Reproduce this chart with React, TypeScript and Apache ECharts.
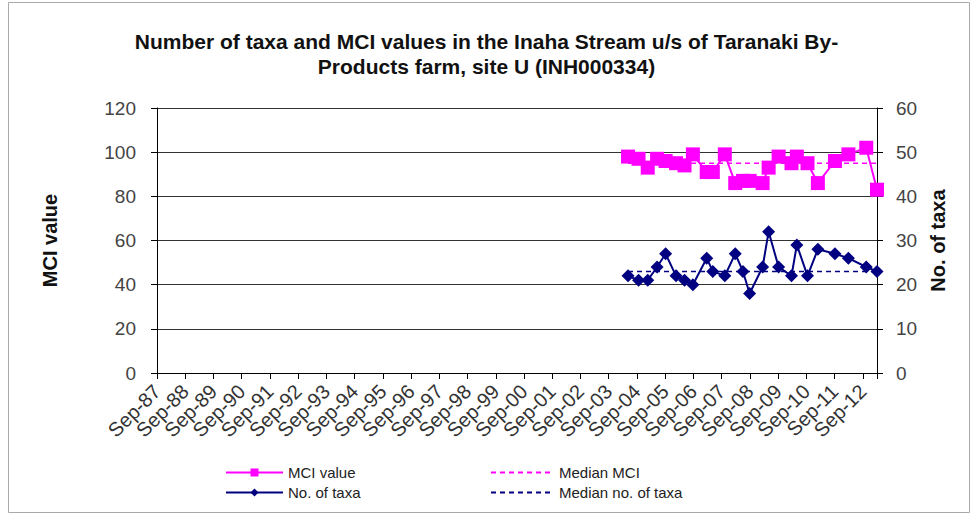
import React, { useEffect, useRef } from "react";
import * as echarts from "echarts";

// Survey dates (estimated from the chart)
const sampleDates = [
  "2004-05-08", "2004-09-21", "2005-01-18", "2005-05-19", "2005-09-06",
  "2006-01-19", "2006-05-09", "2006-08-25", "2007-02-20", "2007-05-10",
  "2007-10-12", "2008-02-24", "2008-06-03", "2008-08-28", "2009-02-12",
  "2009-05-01", "2009-09-07", "2010-02-21", "2010-05-01", "2010-09-16",
  "2011-01-28", "2011-09-06", "2012-02-27", "2012-10-15", "2013-03-03",
];
const mciValues = [98, 97, 93, 97, 96, 95, 94, 99, 91, 91, 99, 86, 87, 87, 86, 93, 98, 95, 98, 95, 86, 96, 99, 102, 83];
const taxaValues = [22, 21, 21, 24, 27, 22, 21, 20, 26, 23, 22, 27, 23, 18, 24, 32, 24, 22, 29, 22, 28, 27, 26, 24, 23];
const medianMCI = 95;
const medianTaxa = 23;
const xTickLabels = [
  "Sep-87", "Sep-88", "Sep-89", "Sep-90", "Sep-91", "Sep-92", "Sep-93", "Sep-94", "Sep-95",
  "Sep-96", "Sep-97", "Sep-98", "Sep-99", "Sep-00", "Sep-01", "Sep-02", "Sep-03", "Sep-04",
  "Sep-05", "Sep-06", "Sep-07", "Sep-08", "Sep-09", "Sep-10", "Sep-11", "Sep-12",
];
const mciTicks = [0, 20, 40, 60, 80, 100, 120];
const taxaTicks = [0, 10, 20, 30, 40, 50, 60];

const ORIGIN = Date.UTC(1987, 8, 1);
const YEAR_MS = 365.25 * 86400000;
const toX = (d: string) => {
  const [y, m, dd] = d.split("-").map(Number);
  return (Date.UTC(y, m - 1, dd) - ORIGIN) / YEAR_MS;
};

const FONT = "Liberation Sans, Arial, sans-serif";

export default function App() {
  const ref = useRef<HTMLDivElement>(null);
  useEffect(() => {
    if (!ref.current) return;
    const chart = echarts.init(ref.current, undefined, { renderer: "svg" });
    const xs = sampleDates.map(toX);
    const xMax = xs[xs.length - 1];
    const mciData = xs.map((x, i) => [x, mciValues[i]]);
    const taxaData = xs.map((x, i) => [x, taxaValues[i]]);
    const medMciData = [[xs[0], medianMCI], [xMax, medianMCI]];
    const medTaxaData = [[xs[0], medianTaxa], [xMax, medianTaxa]];

    const legendBase = {
      orient: "horizontal",
      itemHeight: 10,
      padding: 0,
      textStyle: { fontSize: 15, color: "#222", fontFamily: FONT },
      selectedMode: false,
    };

    chart.setOption({
      animation: false,
      backgroundColor: "#fff",
      title: {
        text: "Number of taxa and MCI values in the Inaha Stream u/s of Taranaki By-\nProducts farm, site U (INH000334)",
        left: "center",
        top: 24,
        textStyle: { fontSize: 21, fontWeight: "bold", color: "#111", fontFamily: FONT, lineHeight: 25 },
      },
      graphic: [
        {
          type: "rect",
          shape: { x: 8.5, y: 2.5, width: 961, height: 510 },
          style: { fill: "none", stroke: "#aaa", lineWidth: 1 },
          silent: true,
        },
      ],
      legend: [
        { ...legendBase, data: ["MCI value"], left: 225, top: 465, itemWidth: 57 },
        { ...legendBase, data: ["Median MCI"], left: 490, top: 465, itemWidth: 63, itemStyle: { opacity: 0 } },
        { ...legendBase, data: ["No. of taxa"], left: 225, top: 485, itemWidth: 57 },
        { ...legendBase, data: ["Median no. of taxa"], left: 490, top: 485, itemWidth: 63, itemStyle: { opacity: 0 } },
      ],
      grid: { left: 157, right: 96, top: 108, bottom: 142, containLabel: false },
      xAxis: {
        type: "value",
        min: 0,
        max: xMax,
        interval: 1,
        splitLine: { show: false },
        axisLine: { show: true, lineStyle: { color: "#000", width: 1 } },
        axisTick: { show: true, length: 6, lineStyle: { color: "#000" } },
        axisLabel: {
          rotate: 45,
          fontSize: 20,
          color: "#333",
          fontFamily: FONT,
          margin: 15,
          showMaxLabel: true,
          formatter: (v: number) => {
            const r = Math.round(v);
            return Math.abs(v - r) < 1e-6 && xTickLabels[r] ? xTickLabels[r] : "";
          },
        },
      },
      yAxis: [
        {
          type: "value",
          min: mciTicks[0],
          max: mciTicks[mciTicks.length - 1],
          interval: mciTicks[1] - mciTicks[0],
          position: "left",
          name: "MCI value",
          nameLocation: "middle",
          nameRotate: 90,
          nameGap: 97,
          nameTextStyle: { fontSize: 20, fontWeight: "bold", color: "#111", fontFamily: FONT },
          axisLine: { show: true, lineStyle: { color: "#000", width: 1 } },
          axisTick: { show: true, length: 6, lineStyle: { color: "#000" } },
          axisLabel: { fontSize: 19, color: "#444", fontFamily: FONT, margin: 21 },
          splitLine: { show: true, lineStyle: { color: "#333", width: 1 } },
        },
        {
          type: "value",
          min: taxaTicks[0],
          max: taxaTicks[taxaTicks.length - 1],
          interval: taxaTicks[1] - taxaTicks[0],
          position: "right",
          name: "No. of taxa",
          nameLocation: "middle",
          nameRotate: 90,
          nameGap: 44,
          nameTextStyle: { fontSize: 20, fontWeight: "bold", color: "#111", fontFamily: FONT },
          axisLine: { show: true, lineStyle: { color: "#000", width: 1 } },
          axisTick: { show: true, length: 6, lineStyle: { color: "#000" } },
          axisLabel: { fontSize: 19, color: "#444", fontFamily: FONT, margin: 19 },
          splitLine: { show: false },
        },
      ],
      series: [
        {
          name: "MCI value",
          type: "line",
          yAxisIndex: 0,
          data: mciData,
          symbol: "rect",
          symbolSize: 14,
          itemStyle: { color: "#FF00FF" },
          lineStyle: { color: "#FF00FF", width: 2 },
          z: 4,
        },
        {
          name: "Median MCI",
          type: "line",
          yAxisIndex: 0,
          data: medMciData,
          symbol: "none",
          itemStyle: { color: "#FF00FF" },
          lineStyle: { color: "#FF00FF", width: 1.5, type: [5, 4] },
          z: 3,
        },
        {
          name: "No. of taxa",
          type: "line",
          yAxisIndex: 1,
          data: taxaData,
          symbol: "diamond",
          symbolSize: 13,
          itemStyle: { color: "#000080" },
          lineStyle: { color: "#000080", width: 2 },
          z: 4,
        },
        {
          name: "Median no. of taxa",
          type: "line",
          yAxisIndex: 1,
          data: medTaxaData,
          symbol: "none",
          itemStyle: { color: "#000080" },
          lineStyle: { color: "#000080", width: 1.5, type: [5, 4] },
          z: 3,
        },
      ],
    });
    return () => chart.dispose();
  }, []);

  return (
    <div
      ref={ref}
      style={{ position: "fixed", left: 0, top: 0, width: 973, height: 515 }}
    />
  );
}
